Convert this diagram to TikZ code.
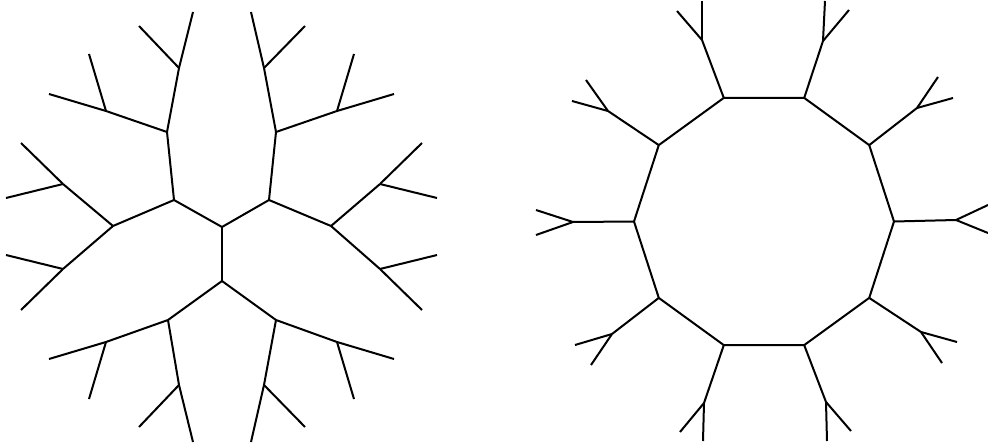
\documentclass[tikz,border=0pt]{standalone}
\begin{document}
\begin{tikzpicture}[x=1pt,y=-1pt, edge/.style={line width=2pt, line cap=butt, line join=miter}]
\useasboundingbox (0,0) rectangle (988,444);
% ---------- left tree ----------
\coordinate (R1) at (222,227); \coordinate (R2) at (222,281);
\coordinate (A) at (174,200); \coordinate (B) at (167,132);
\coordinate (C) at (179,68); \coordinate (c1) at (193,12); \coordinate (c2) at (139,26);
\coordinate (D) at (106,111); \coordinate (d1) at (89,54); \coordinate (d2) at (49,94);
\coordinate (E) at (113,226);
\coordinate (F) at (63,184); \coordinate (f1) at (21,143); \coordinate (f2) at (6,198);
\coordinate (G) at (63,269); \coordinate (g1) at (6,255); \coordinate (g2) at (21,310);
\coordinate (A2) at (269,200); \coordinate (K) at (276,132);
\coordinate (L) at (264,68); \coordinate (l1) at (251,12); \coordinate (l2) at (305,26);
\coordinate (M) at (337,111); \coordinate (m1) at (354,54); \coordinate (m2) at (394,94);
\coordinate (N) at (331,226);
\coordinate (O) at (380,184); \coordinate (o1) at (422,143); \coordinate (o2) at (437,198);
\coordinate (P) at (380,269); \coordinate (p1) at (437,255); \coordinate (p2) at (422,310);
\coordinate (H) at (168,320);
\coordinate (I) at (106,342); \coordinate (i1) at (49,359); \coordinate (i2) at (89,399);
\coordinate (J) at (179,385); \coordinate (j1) at (139,427); \coordinate (j2) at (193,442);
\coordinate (H2) at (276,320);
\coordinate (Q) at (337,342); \coordinate (q1) at (394,359); \coordinate (q2) at (354,399);
\coordinate (S) at (264,385); \coordinate (s1) at (305,427); \coordinate (s2) at (251,442);
\draw[edge] (R1) -- (R2);
\draw[edge] (R1) -- (A); \draw[edge] (R1) -- (A2);
\draw[edge] (A) -- (B); \draw[edge] (A) -- (E);
\draw[edge] (B) -- (C); \draw[edge] (B) -- (D);
\draw[edge] (C) -- (c1); \draw[edge] (C) -- (c2);
\draw[edge] (D) -- (d1); \draw[edge] (D) -- (d2);
\draw[edge] (E) -- (F); \draw[edge] (E) -- (G);
\draw[edge] (F) -- (f1); \draw[edge] (F) -- (f2);
\draw[edge] (G) -- (g1); \draw[edge] (G) -- (g2);
\draw[edge] (A2) -- (K); \draw[edge] (A2) -- (N);
\draw[edge] (K) -- (L); \draw[edge] (K) -- (M);
\draw[edge] (L) -- (l1); \draw[edge] (L) -- (l2);
\draw[edge] (M) -- (m1); \draw[edge] (M) -- (m2);
\draw[edge] (N) -- (O); \draw[edge] (N) -- (P);
\draw[edge] (O) -- (o1); \draw[edge] (O) -- (o2);
\draw[edge] (P) -- (p1); \draw[edge] (P) -- (p2);
\draw[edge] (R2) -- (H); \draw[edge] (R2) -- (H2);
\draw[edge] (H) -- (I); \draw[edge] (H) -- (J);
\draw[edge] (I) -- (i1); \draw[edge] (I) -- (i2);
\draw[edge] (J) -- (j1); \draw[edge] (J) -- (j2);
\draw[edge] (H2) -- (Q); \draw[edge] (H2) -- (S);
\draw[edge] (Q) -- (q1); \draw[edge] (Q) -- (q2);
\draw[edge] (S) -- (s1); \draw[edge] (S) -- (s2);
% ---------- right decagon ----------
\coordinate (V8) at (894,221.5); \coordinate (V9) at (869.2,145.1);
\coordinate (V0) at (804.2,97.9); \coordinate (V1) at (723.8,97.9);
\coordinate (V2) at (658.8,145.1); \coordinate (V3) at (634,221.5);
\coordinate (V4) at (658.8,297.9); \coordinate (V5) at (723.8,345.1);
\coordinate (V6) at (804.2,345.1); \coordinate (V7) at (869.2,297.9);
\coordinate (W8) at (956,220); \coordinate (W8a) at (988,205); \coordinate (W8b) at (988,233);
\coordinate (W9) at (917,108); \coordinate (W9a) at (938,77); \coordinate (W9b) at (953,98);
\coordinate (W0) at (823,41); \coordinate (W0a) at (825,1); \coordinate (W0b) at (849,10);
\coordinate (W1) at (702,40); \coordinate (W1a) at (702,1); \coordinate (W1b) at (677,11);
\coordinate (W2) at (608,111); \coordinate (W2a) at (572,101); \coordinate (W2b) at (586,80);
\coordinate (W3) at (573,222); \coordinate (W3a) at (536,210); \coordinate (W3b) at (536,235);
\coordinate (W4) at (612,334); \coordinate (W4a) at (575,345); \coordinate (W4b) at (591,365);
\coordinate (W5) at (704,403); \coordinate (W5a) at (703,441); \coordinate (W5b) at (680,432);
\coordinate (W6) at (826,402); \coordinate (W6a) at (827,441); \coordinate (W6b) at (851,431);
\coordinate (W7) at (921,332); \coordinate (W7a) at (957,342); \coordinate (W7b) at (942,363);
\draw[edge] (V0) -- (V1) -- (V2) -- (V3) -- (V4) -- (V5) -- (V6) -- (V7) -- (V8) -- (V9) -- cycle;
\foreach \k in {0,...,9}{
  \draw[edge] (V\k) -- (W\k);
  \draw[edge] (W\k) -- (W\k a);
  \draw[edge] (W\k) -- (W\k b);
}
\end{tikzpicture}
\end{document}
